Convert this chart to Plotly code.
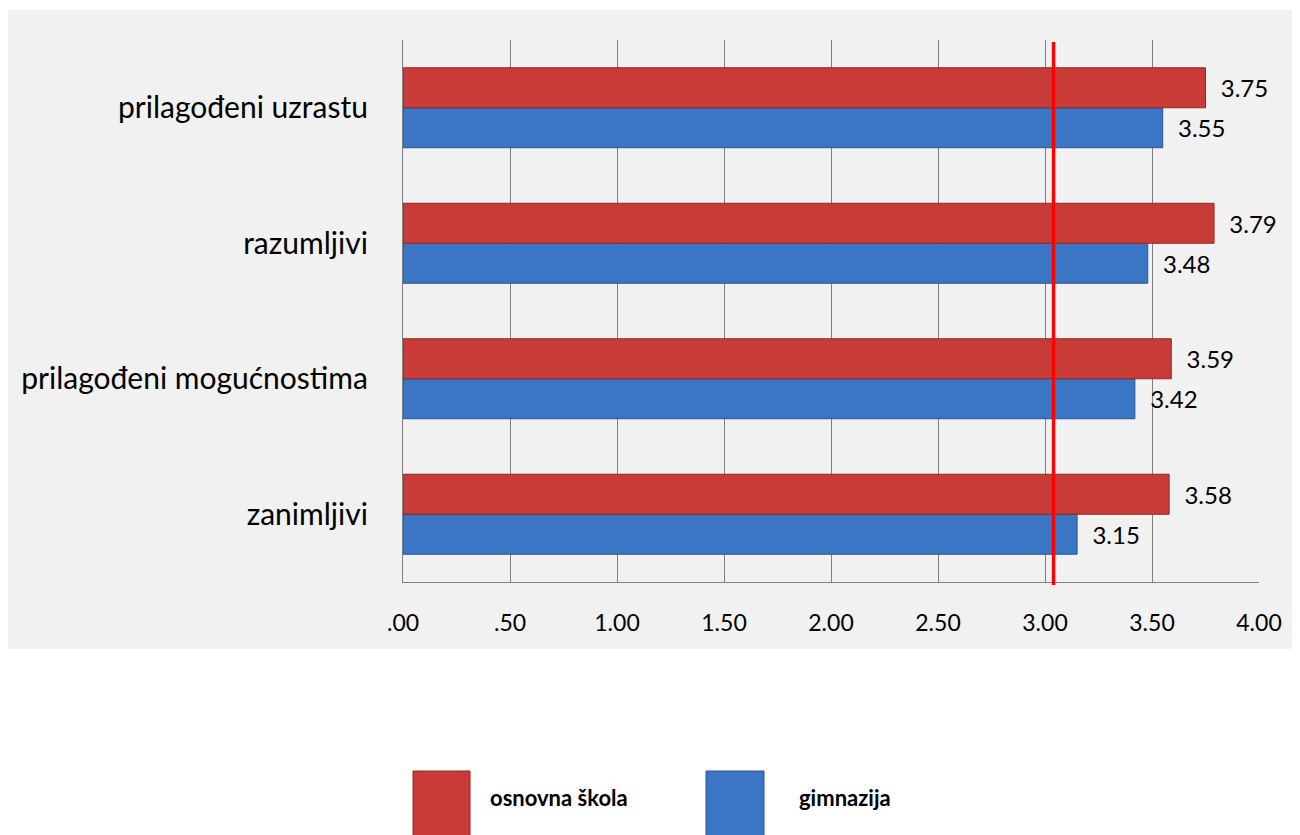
import plotly.graph_objects as go

categories = ["zanimljivi", "prilagođeni mogućnostima", "razumljivi", "prilagođeni uzrastu"]
osnovna_skola = [3.58, 3.59, 3.79, 3.75]
gimnazija = [3.15, 3.42, 3.48, 3.55]
series_names = ["osnovna škola", "gimnazija"]
tick_vals = [0, 0.5, 1.0, 1.5, 2.0, 2.5, 3.0, 3.5, 4.0]
tick_text = [".00", ".50", "1.00", "1.50", "2.00", "2.50", "3.00", "3.50", "4.00"]
reference_value = 3.04

RED = "#C93B36"
BLUE = "#3B76C4"
FONT = "Lato"
NB = "\u00a0"

fig = go.Figure()
fig.add_trace(go.Bar(
    y=categories, x=gimnazija, orientation="h", name=series_names[1],
    marker=dict(color=BLUE, line=dict(color="#2A5490", width=1)),
    text=[NB * 2 + f"{v:.2f}" for v in gimnazija], textposition="outside",
    textfont=dict(family=FONT, size=24, color="#000000"), cliponaxis=False,
))
fig.add_trace(go.Bar(
    y=categories, x=osnovna_skola, orientation="h", name=series_names[0],
    marker=dict(color=RED, line=dict(color="#8E2824", width=1)),
    text=[NB * 2 + f"{v:.2f}" for v in osnovna_skola], textposition="outside",
    textfont=dict(family=FONT, size=24, color="#000000"), cliponaxis=False,
))

# page pixel -> paper coords (page has an 8px body margin)
PW = 856.0
PH = 542.0
def xp(pix):
    return (pix - 403) / PW
def yp(pix):
    return (582 - pix) / PH

# grey panel background
fig.add_shape(type="rect", xref="paper", yref="paper",
              x0=xp(8), x1=xp(1298), y0=yp(649), y1=yp(10),
              fillcolor="#F1F1F1", line=dict(width=0), layer="below")

# reference line
fig.add_shape(type="line", xref="x", yref="paper", x0=reference_value, x1=reference_value,
              y0=yp(585), y1=yp(42), line=dict(color="#FF0000", width=3.5))

# custom legend
legend_items = [(413, 470, RED, "#8E2824", 488, series_names[0]),
                (706, 764, BLUE, "#2A5490", 797, series_names[1])]
for x0, x1, col, lc, tx, name in legend_items:
    fig.add_shape(type="rect", xref="paper", yref="paper",
                  x0=xp(x0), x1=xp(x1), y0=yp(845), y1=yp(771),
                  fillcolor=col, line=dict(color=lc, width=1))
    fig.add_annotation(xref="paper", yref="paper", x=xp(tx), y=yp(797),
                       text=f"<b>{name}</b>", showarrow=False, xanchor="left", yanchor="middle",
                       font=dict(family=FONT, size=22, color="#000000"))

fig.update_layout(
    width=1300, height=835,
    margin=dict(l=395, r=49, t=32, b=261),
    paper_bgcolor="#FFFFFF", plot_bgcolor="rgba(0,0,0,0)",
    barmode="group", bargap=0.41, bargroupgap=0.0,
    showlegend=False,
    font=dict(family=FONT, color="#000000"),
    xaxis=dict(range=[0, 4], tickvals=tick_vals, ticktext=tick_text,
               showgrid=True, gridcolor="#808080", gridwidth=1.2,
               showline=True, linecolor="#808080", linewidth=1.2,
               zeroline=False, ticks="", ticklabelstandoff=20,
               tickfont=dict(family=FONT, size=23, color="#000000")),
    yaxis=dict(showgrid=False, showline=True, linecolor="#808080", linewidth=1.2,
               ticks="", ticklabelstandoff=28,
               tickfont=dict(family=FONT, size=30, color="#000000")),
)

fig.write_html("out.html")
